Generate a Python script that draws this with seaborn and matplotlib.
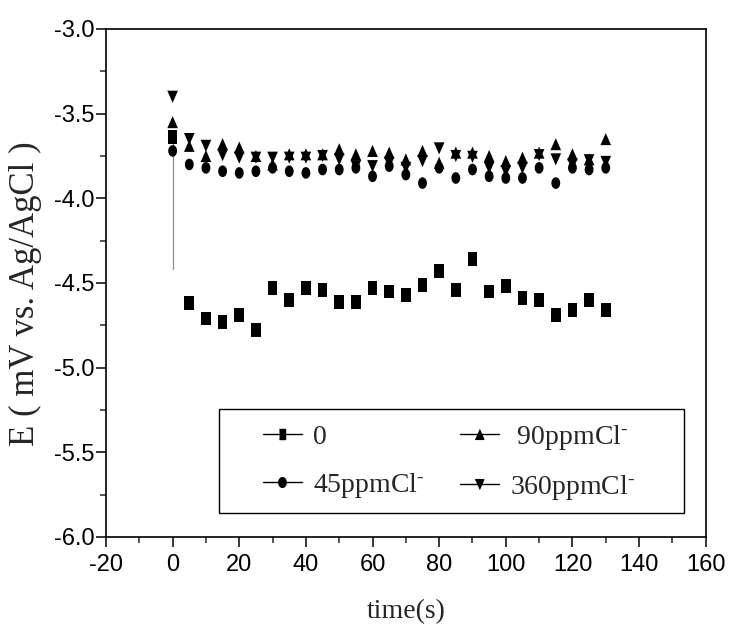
import numpy as np
import pandas as pd
import matplotlib
matplotlib.use("Agg")
import matplotlib.pyplot as plt
import seaborn as sns
from matplotlib.markers import MarkerStyle
from matplotlib.lines import Line2D
from matplotlib.patches import Rectangle
from matplotlib.ticker import MultipleLocator

# ---------------- data ----------------
time_s = [0, 5, 10, 15, 20, 25, 30, 35, 40, 45, 50, 55, 60, 65, 70,
          75, 80, 85, 90, 95, 100, 105, 110, 115, 120, 125, 130]

E_0 = [-3.64, -4.62, -4.71, -4.73, -4.69, -4.78, -4.53, -4.60, -4.53,
       -4.54, -4.61, -4.61, -4.53, -4.55, -4.57, -4.51, -4.43, -4.54,
       -4.36, -4.55, -4.52, -4.59, -4.60, -4.69, -4.66, -4.60, -4.66]

E_90 = [-3.55, -3.69, -3.75, -3.68, -3.70, -3.75, -3.80, -3.74, -3.74,
        -3.74, -3.71, -3.74, -3.72, -3.73, -3.77, -3.72, -3.79, -3.73,
        -3.73, -3.75, -3.78, -3.76, -3.73, -3.68, -3.74, -3.77, -3.65]

E_45 = [-3.72, -3.80, -3.82, -3.84, -3.85, -3.84, -3.82, -3.84, -3.85,
        -3.83, -3.83, -3.82, -3.87, -3.81, -3.86, -3.91, -3.82, -3.88,
        -3.83, -3.87, -3.88, -3.88, -3.82, -3.91, -3.82, -3.83, -3.82]

E_360 = [-3.40, -3.65, -3.69, -3.745, -3.76, -3.76, -3.76, -3.76, -3.76,
         -3.75, -3.77, -3.81, -3.81, -3.79, -3.82, -3.78, -3.705, -3.75,
         -3.755, -3.82, -3.84, -3.82, -3.745, -3.77, -3.80, -3.775, -3.785]

# faint connecting line visible under the first "0" point
drop_t = [0, 0]
drop_E = [-3.65, -4.42]

labels = ["0", r"45ppmCl$^{\text{-}}$", r" 90ppmCl$^{\text{-}}$", r"360ppmCl$^{\text{-}}$"]
xticks = [-20, 0, 20, 40, 60, 80, 100, 120, 140, 160]
yticks = [-6.0, -5.5, -5.0, -4.5, -4.0, -3.5, -3.0]

# ---------------- styling ----------------
sns.set_style("ticks")
plt.rcParams["font.family"] = ["Liberation Sans", "DejaVu Sans"]
plt.rcParams["mathtext.fontset"] = "custom"
plt.rcParams["mathtext.rm"] = "Liberation Serif"
plt.rcParams["mathtext.it"] = "Liberation Serif:italic"
plt.rcParams["mathtext.bf"] = "Liberation Serif:bold"

# slightly tall marker shapes, as in the reference
theta = np.linspace(0, 2 * np.pi, 48)
mk_square = MarkerStyle(np.array([(-0.70, -1), (0.70, -1), (0.70, 1), (-0.70, 1)]))
mk_circle = MarkerStyle(np.column_stack([0.76 * np.cos(theta), np.sin(theta)]))
mk_up = MarkerStyle(np.array([(-0.88, -1), (0.88, -1), (0, 1)]))
mk_down = MarkerStyle(np.array([(-0.88, 1), (0.88, 1), (0, -1)]))

fig = plt.figure(figsize=(7.31, 6.29), dpi=100)
ax = fig.add_axes([0.1450, 0.1463, 0.8204, 0.8076])

sns.lineplot(x=drop_t, y=drop_E, ax=ax, color="0.55", lw=0.9,
             estimator=None, sort=False, legend=False)

series = [(E_0, mk_square, 100), (E_90, mk_up, 76),
          (E_45, mk_circle, 70), (E_360, mk_down, 76)]
for vals, mk, s in series:
    sns.scatterplot(x=time_s, y=vals, ax=ax, marker=mk, s=s, color="black",
                    edgecolor="none", linewidth=0, legend=False, zorder=3)

ax.set_xlim(-20, 160)
ax.set_ylim(-6.0, -3.0)
ax.set_xticks(xticks)
ax.set_xticklabels([f"{v:g}" for v in xticks])
ax.set_yticks(yticks)
ax.set_yticklabels([f"{v:.1f}" for v in yticks])
ax.xaxis.set_minor_locator(MultipleLocator(10))
ax.yaxis.set_minor_locator(MultipleLocator(0.25))
ax.tick_params(which="major", direction="out", length=7, width=1.1,
               labelsize=17, colors="black")
ax.tick_params(axis="y", which="major", pad=1)
ax.tick_params(axis="x", which="major", pad=5)
ax.tick_params(which="minor", direction="out", length=4, width=1.1)
for sp in ax.spines.values():
    sp.set_visible(True)
    sp.set_linewidth(1.2)
    sp.set_color("black")

ax.set_ylabel("E ( mV vs. Ag/AgCl )", family="Liberation Serif", fontsize=25)
ax.yaxis.set_label_coords(-0.107, 0.478)
ax.set_xlabel("time(s)", family="Liberation Serif", fontsize=20)
ax.xaxis.set_label_coords(0.50, -0.122)

# legend
handles = [Line2D([], [], color="black", lw=1.0, marker=mk, markersize=7)
           for mk in [mk_square, mk_circle, mk_up, mk_down]]
leg = ax.legend(handles=handles, labels=labels, loc="center",
                bbox_to_anchor=(0.2618, 0.063, 0.6203, 0.167), mode="expand",
                ncol=2, frameon=False,
                prop={"family": "Liberation Serif", "size": 20},
                handlelength=1.4, handletextpad=0.4, labelspacing=0.75,
                borderpad=0, borderaxespad=0)
ax.add_patch(Rectangle((0.1884, 0.0472), 0.7754, 0.2048, transform=ax.transAxes,
                       fill=False, lw=1.0, ec="black", zorder=4))

fig.savefig("out.png", dpi=100)
